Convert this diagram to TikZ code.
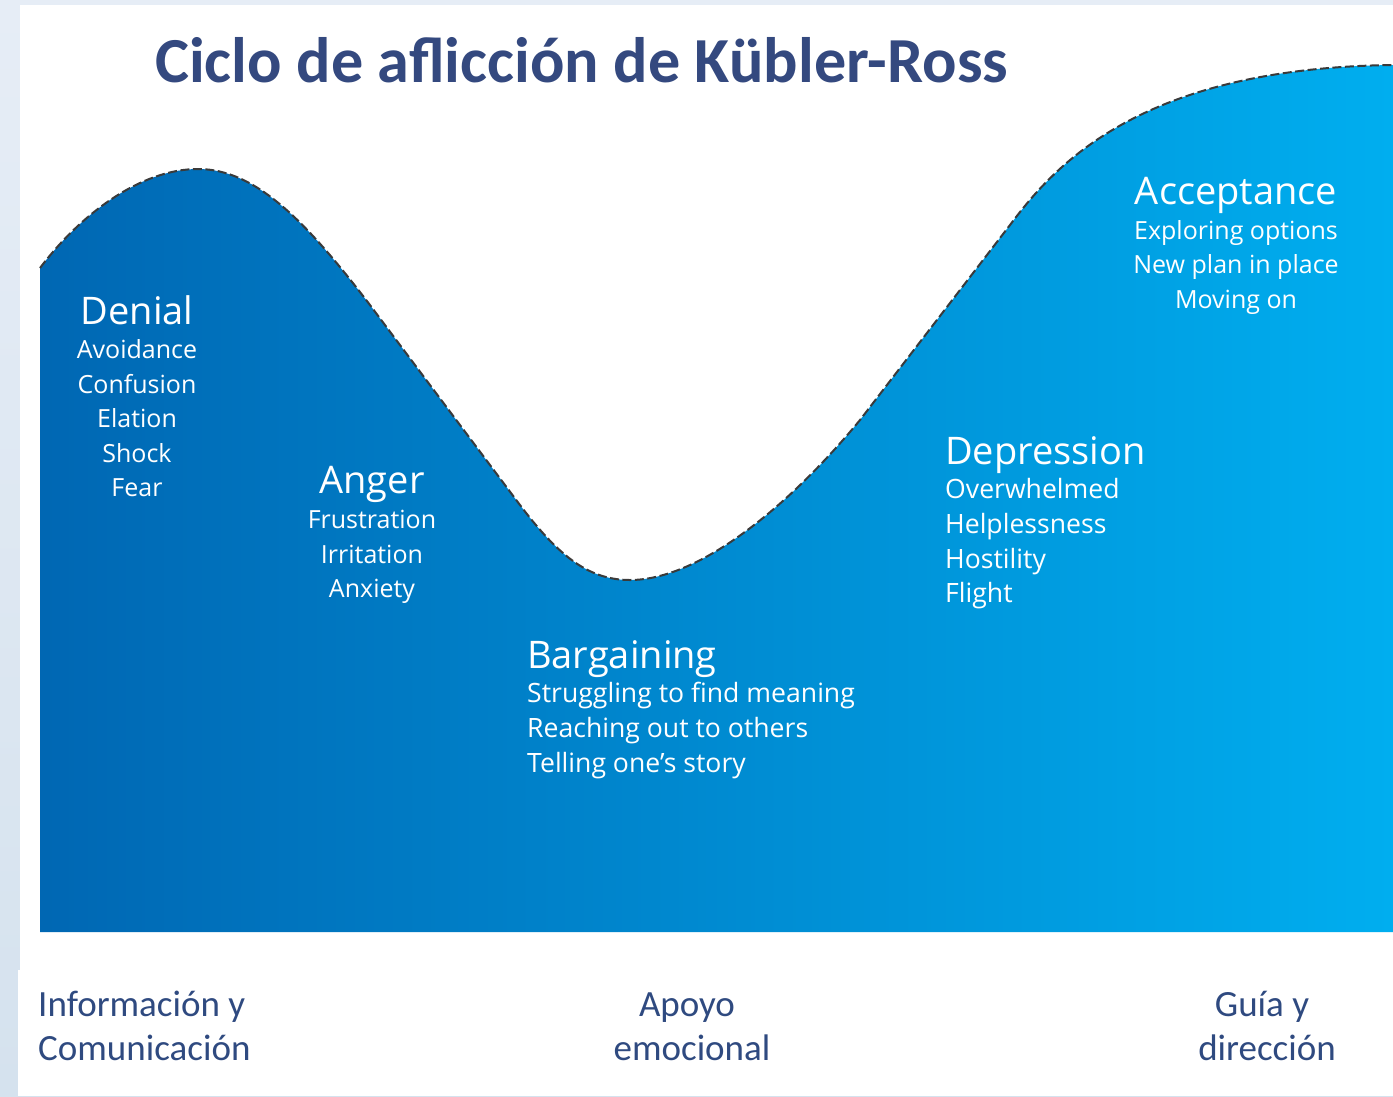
\documentclass[tikz,border=0pt]{standalone}
\usepackage{fontspec}
\setmainfont{Carlito}
\newfontfamily\labfont{Open Sans}
\definecolor{titleblue}{HTML}{34497F}
\definecolor{footblue}{HTML}{2F4A80}
\definecolor{waveleft}{HTML}{0067B3}
\definecolor{wavemid}{HTML}{008CD4}
\definecolor{waveright}{HTML}{00AEEF}
\definecolor{edgegray}{HTML}{3A3A3A}
\definecolor{striptop}{HTML}{E6EDF6}
\definecolor{stripbot}{HTML}{D5E2EE}
\tikzset{
  heading/.style={inner sep=0pt, text=white, font=\labfont\fontsize{38}{44}\selectfont},
  item/.style={inner sep=0pt, text=white, font=\labfont\fontsize{25}{30}\selectfont},
  itemwide/.style={inner sep=0pt, text=white, font=\labfont\fontsize{26.6}{30}\selectfont},
  foot/.style={inner sep=0pt, text=footblue, font=\fontsize{37}{44}\selectfont},
  wavecurve/.style={line width=2pt, draw=edgegray, dash pattern=on 9pt off 3.5pt}
}
\begin{document}
\begin{tikzpicture}[x=1pt,y=-1pt]
\useasboundingbox (0,0) rectangle (1393,1096);
% background
\shade[top color=striptop, bottom color=stripbot] (0,0) rectangle (1393,1096);
\fill[white] (20,5) rectangle (1393,1096);
\fill[white] (18,970) rectangle (20,1096);
% wave
\coordinate (w0) at (40,268);
\coordinate (peak) at (198,169);
\coordinate (w1) at (370,305);
\coordinate (w2) at (520,505);
\coordinate (valley) at (630,580);
\coordinate (w3) at (860,420);
\coordinate (w4) at (1010,225);
\coordinate (wend) at (1393,65);
\def\wavepath{(w0) .. controls (80,215) and (140,169) .. (peak)
  .. controls (255,169) and (305,220) .. (w1) -- (w2)
  .. controls (560,558) and (590,580) .. (valley)
  .. controls (700,580) and (790,505) .. (w3) -- (w4)
  .. controls (1055,165) and (1140,68) .. (wend)}
\shade[left color=waveleft, middle color=wavemid, right color=waveright]
  (40,932) -- \wavepath -- (1393,932) -- cycle;
\draw[wavecurve] \wavepath;
% title
\node[anchor=base west, inner sep=0pt, text=titleblue, font=\bfseries\fontsize{64.2}{70}\selectfont] (title) at (155,82) {Ciclo de aflicción de Kübler-Ross};
% Denial
\node[heading, anchor=base] (denial) at (137,324) {Denial};
\node[item, anchor=base] (den1) at (137,358) {Avoidance};
\node[item, anchor=base] (den2) at (137,393) {Confusion};
\node[item, anchor=base] (den3) at (137,427) {Elation};
\node[item, anchor=base] (den4) at (137,462) {Shock};
\node[item, anchor=base] (den5) at (137,496) {Fear};
% Anger
\node[heading, anchor=base] (anger) at (372,493) {Anger};
\node[item, anchor=base] (ang1) at (372,528) {Frustration};
\node[item, anchor=base] (ang2) at (372,563) {Irritation};
\node[item, anchor=base] (ang3) at (372,597) {Anxiety};
% Bargaining
\node[heading, anchor=base west] (barg) at (527,668) {Bargaining};
\node[itemwide, anchor=base west] (bar1) at (527,702) {Struggling to find meaning};
\node[itemwide, anchor=base west] (bar2) at (527,737) {Reaching out to others};
\node[itemwide, anchor=base west] (bar3) at (527,772) {Telling one’s story};
% Depression
\node[heading, anchor=base west] (depr) at (945,464) {Depression};
\node[itemwide, anchor=base west] (dep1) at (945,498) {Overwhelmed};
\node[itemwide, anchor=base west] (dep2) at (945,533) {Helplessness};
\node[itemwide, anchor=base west] (dep3) at (945,568) {Hostility};
\node[itemwide, anchor=base west] (dep4) at (945,602) {Flight};
% Acceptance
\node[heading, anchor=base] (accept) at (1236,204) {Acceptance};
\node[item, anchor=base] (acc1) at (1236,239) {Exploring options};
\node[item, anchor=base] (acc2) at (1236,273) {New plan in place};
\node[item, anchor=base] (acc3) at (1236,308) {Moving on};
% footer
\node[foot, anchor=base west] (info1) at (38,1016) {Información y};
\node[foot, anchor=base west] (info2) at (38,1060) {Comunicación};
\node[foot, anchor=base] (apo1) at (687,1016) {Apoyo};
\node[foot, anchor=base] (apo2) at (692,1060) {emocional};
\node[foot, anchor=base] (gui1) at (1262,1016) {Guía y};
\node[foot, anchor=base] (gui2) at (1267,1060) {dirección};
\end{tikzpicture}
\end{document}
